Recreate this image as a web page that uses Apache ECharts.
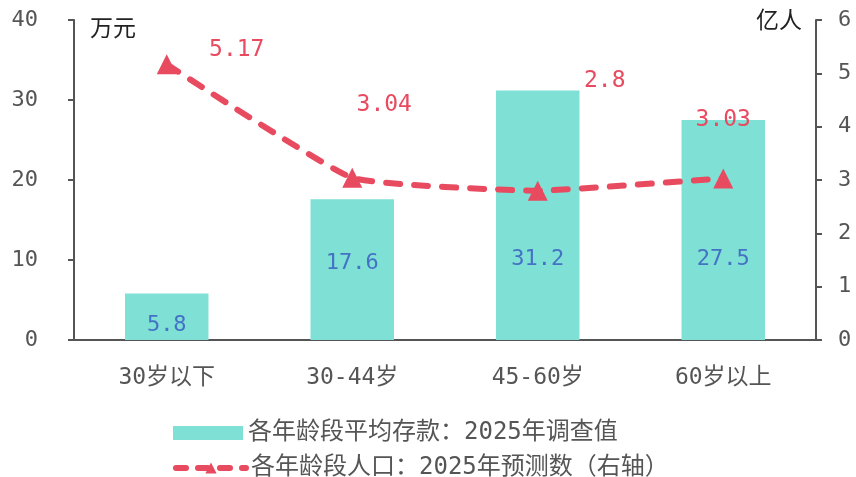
<!DOCTYPE html>
<html>
<head>
<meta charset="utf-8">
<script src="https://cdn.jsdelivr.net/npm/echarts@6/dist/echarts.min.js"></script>
<style>
  html, body { margin: 0; padding: 0; background: #fff; }
  #main { width: 856px; height: 477px; }
</style>
</head>
<body>
<div id="main"></div>
<script>
const categories = ['30岁以下', '30-44岁', '45-60岁', '60岁以上'];
const depositValues = [5.8, 17.6, 31.2, 27.5];
const populationValues = [5.17, 3.04, 2.8, 3.03];
const leftTicks = { min: 0, max: 40, interval: 10 };
const rightTicks = { min: 0, max: 6, interval: 1 };
const barName = '各年龄段平均存款：2025年调查值';
const lineName = '各年龄段人口：2025年预测数（右轴）';

const FONT = "'DejaVu Sans Mono', 'Noto Sans CJK SC', monospace";
const RED = '#E84A5F';
const TEAL = '#7FE0D6';
const GREY = '#555';

// label placement, kept apart from the data
const barLabelDist = [4, 66, 70, 70];
const lineLabelOffsets = [[70, 12], [32, -46], [67, -83], [0, -32]];

const chart = echarts.init(document.getElementById('main'));

const legendBase = {
  left: 168,
  itemWidth: 70,
  itemHeight: 14,
  itemGap: 10,
  textStyle: { fontSize: 24, color: GREY, fontFamily: FONT }
};

const option = {
  backgroundColor: '#fff',
  animation: false,
  textStyle: { fontFamily: FONT },
  grid: { left: 74, right: 40, top: 20, bottom: 137, containLabel: false },
  legend: [
    Object.assign({}, legendBase, { top: 416, icon: 'rect', data: [barName] }),
    Object.assign({}, legendBase, {
      top: 451,
      data: [lineName],
      lineStyle: { width: 6, type: [10, 12], cap: 'round' },
      itemStyle: { color: RED }
    })
  ],
  xAxis: {
    type: 'category',
    data: categories,
    axisLine: { lineStyle: { color: GREY, width: 2 } },
    axisTick: { show: false },
    axisLabel: { color: GREY, fontSize: 23, margin: 27, fontFamily: FONT }
  },
  yAxis: [
    {
      type: 'value',
      min: leftTicks.min, max: leftTicks.max, interval: leftTicks.interval,
      name: '万元',
      nameLocation: 'end',
      nameGap: -10,
      nameTextStyle: { color: '#222', fontSize: 23, align: 'left', verticalAlign: 'middle', padding: [0, 0, 0, 16], fontFamily: FONT },
      splitLine: { show: false },
      axisLine: { show: true, lineStyle: { color: GREY, width: 2 } },
      axisTick: { show: true, length: 6, lineStyle: { color: GREY, width: 2 } },
      axisLabel: { color: GREY, fontSize: 22, margin: 36, fontFamily: FONT }
    },
    {
      type: 'value',
      min: rightTicks.min, max: rightTicks.max, interval: rightTicks.interval,
      name: '亿人',
      nameLocation: 'end',
      nameGap: -2,
      nameTextStyle: { color: '#222', fontSize: 23, align: 'right', verticalAlign: 'middle', padding: [0, 14, 0, 0], fontFamily: FONT },
      splitLine: { show: false },
      axisLine: { show: true, lineStyle: { color: GREY, width: 2 } },
      axisTick: { show: true, length: 6, lineStyle: { color: GREY, width: 2 } },
      axisLabel: { color: GREY, fontSize: 22, margin: 22, fontFamily: FONT }
    }
  ],
  series: [
    {
      name: barName,
      type: 'bar',
      yAxisIndex: 0,
      barWidth: '45%',
      itemStyle: { color: TEAL },
      data: depositValues.map((v, i) => ({
        value: v,
        label: { distance: barLabelDist[i] }
      })),
      label: {
        show: true,
        position: 'insideBottom',
        color: '#4472C4',
        fontSize: 22,
        fontFamily: FONT
      },
      z: 1
    },
    {
      name: lineName,
      type: 'line',
      yAxisIndex: 1,
      smooth: 0.12,
      symbol: 'triangle',
      symbolSize: 20,
      itemStyle: { color: RED },
      lineStyle: { color: RED, width: 6, type: [14, 14], cap: 'round' },
      data: populationValues.map((v, i) => ({
        value: v,
        label: { offset: lineLabelOffsets[i] }
      })),
      label: {
        show: true,
        position: 'top',
        color: RED,
        fontSize: 23,
        fontFamily: FONT
      },
      z: 3
    }
  ]
};

chart.setOption(option);
</script>
</body>
</html>
